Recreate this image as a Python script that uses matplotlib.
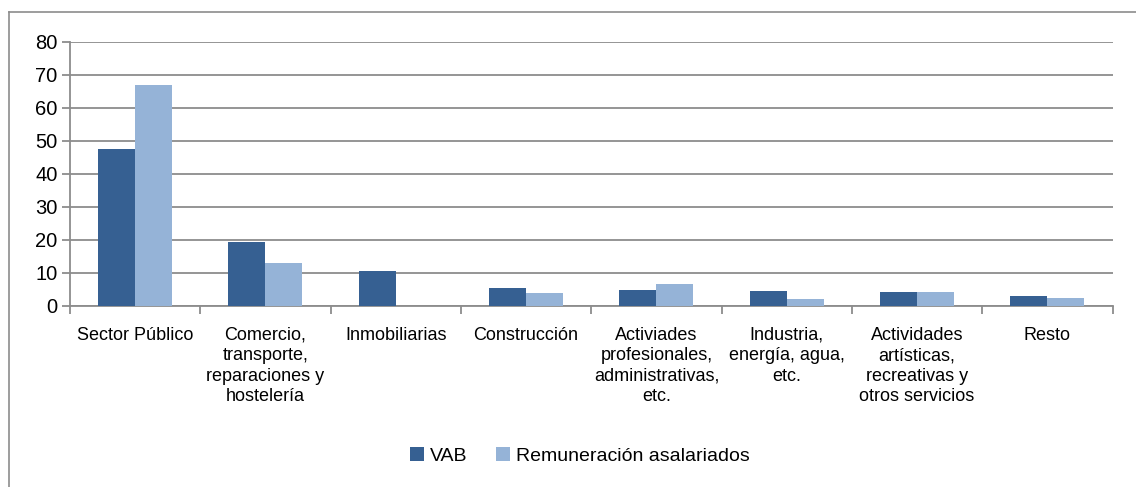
import matplotlib.pyplot as plt
from matplotlib.lines import Line2D
import numpy as np

plt.rcParams['font.family'] = ['Liberation Sans', 'DejaVu Sans']

categories = ["Sector Público",
              "Comercio,\ntransporte,\nreparaciones y\nhostelería",
              "Inmobiliarias",
              "Construcción",
              "Activiades\nprofesionales,\nadministrativas,\netc.",
              "Industria,\nenergía, agua,\netc.",
              "Actividades\nartísticas,\nrecreativas y\notros servicios",
              "Resto"]
vab = [47.5, 19.5, 10.7, 5.6, 4.7, 4.4, 4.1, 3.0]
remuneracion = [66.9, 13.1, 0.0, 4.0, 6.6, 2.2, 4.2, 2.3]
series_names = ["VAB", "Remuneración asalariados"]

dark = "#366092"
light = "#95B3D7"
grid_col = "#8C8C8C"

fig = plt.figure(figsize=[11.36, 4.87], dpi=100)
ax = fig.add_axes([0.0616, 0.3717, 0.9178, 0.5421])

x = np.arange(len(categories))
w = 0.284
ax.bar(x - w / 2, vab, w, color=dark, label=series_names[0], zorder=3)
ax.bar(x + w / 2, remuneracion, w, color=light, label=series_names[1], zorder=3)

ax.set_xlim(-0.5, len(categories) - 0.5)
ax.set_ylim(0, 80)
ax.set_yticks(range(0, 81, 10))
ax.yaxis.grid(True, color=grid_col, linewidth=1.3, zorder=0)
ax.tick_params(axis='y', labelsize=14.5, length=6, color=grid_col, width=1.3, pad=3)

# category boundaries as major ticks, labels as minor ticks
ax.set_xticks(np.arange(-0.5, len(categories), 1.0))
ax.set_xticklabels([])
ax.tick_params(axis='x', which='major', length=6, color=grid_col, width=1.3)
ax.set_xticks(x, minor=True)
ax.set_xticklabels(categories, minor=True, fontsize=13, linespacing=1.27, va='top')
ax.tick_params(axis='x', which='minor', length=0, pad=15)

for s in ['top', 'right']:
    ax.spines[s].set_visible(False)
for s in ['left', 'bottom']:
    ax.spines[s].set_color(grid_col)
    ax.spines[s].set_linewidth(1.3)

fig.legend(loc='center', bbox_to_anchor=(0.5105, 0.064), ncol=2, frameon=False,
           fontsize=14, handlelength=0.7, handleheight=0.7, handletextpad=0.3,
           columnspacing=1.5)

# outer chart frame (top and left edges visible)
fig.add_artist(Line2D([9 / 1136, 1.0], [1 - 12 / 487, 1 - 12 / 487],
                      transform=fig.transFigure, color="#8C8C8C", linewidth=1.2))
fig.add_artist(Line2D([9 / 1136, 9 / 1136], [0.0, 1 - 12 / 487],
                      transform=fig.transFigure, color="#8C8C8C", linewidth=1.2))

fig.savefig("out.png", dpi=100)
